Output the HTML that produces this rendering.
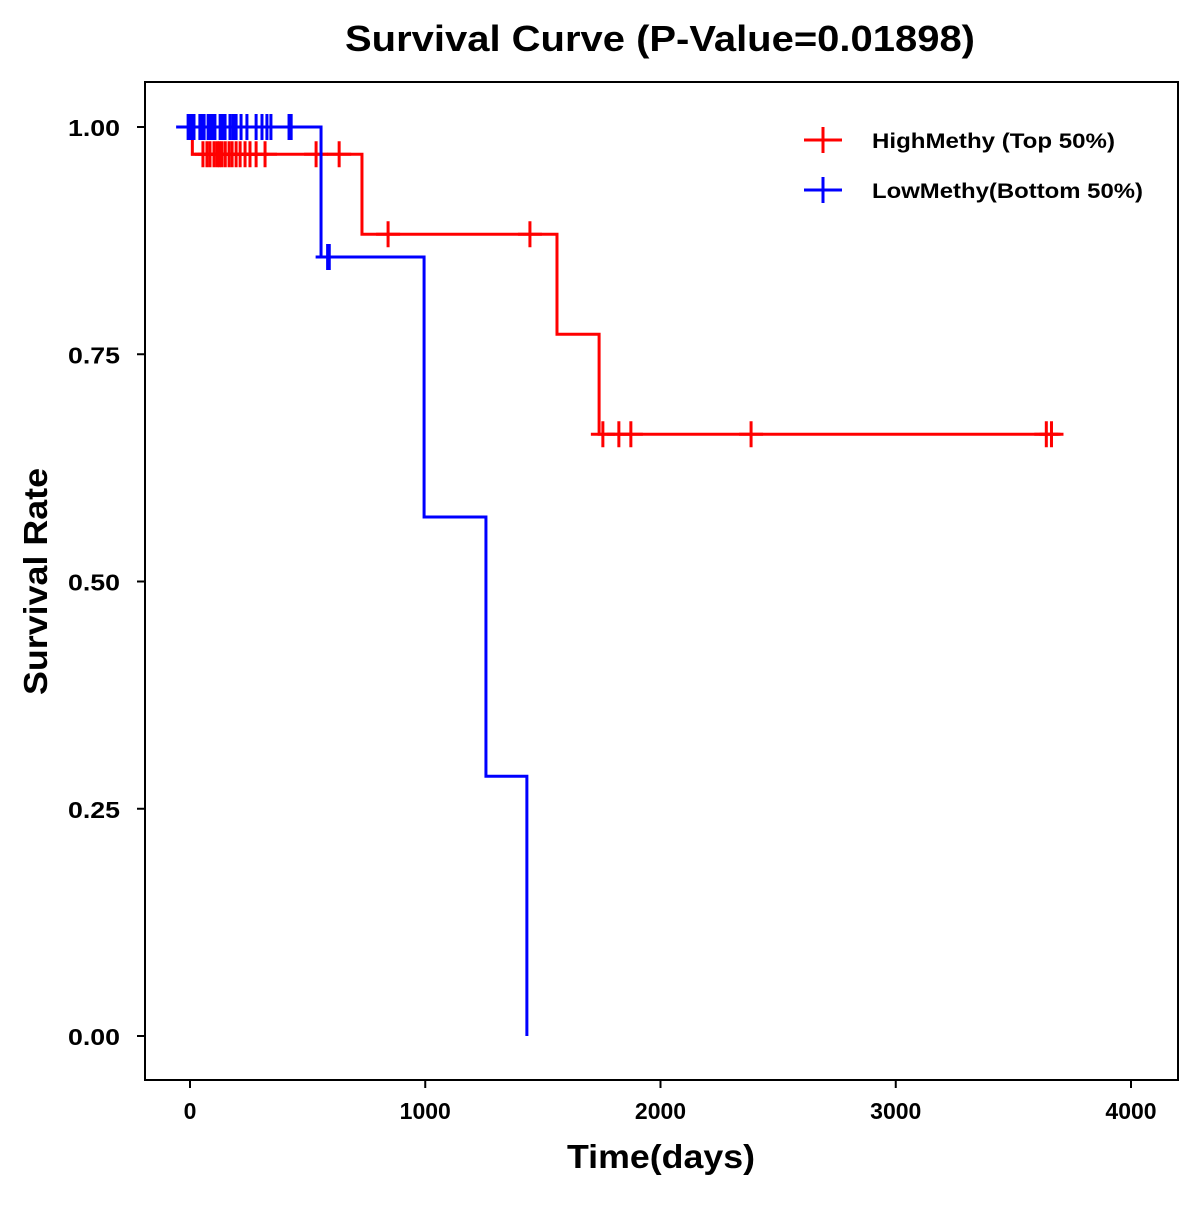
<!DOCTYPE html>
<html><head><meta charset="utf-8"><style>
body{margin:0;background:#fff}
svg text{font-family:"Liberation Sans",Arial,sans-serif;font-weight:bold}
</style></head><body>
<svg id="chart" width="1200" height="1200" viewBox="0 0 1200 1200" xmlns="http://www.w3.org/2000/svg">
<rect x="0" y="0" width="1200" height="1200" fill="#fff"/>
<text x="345" y="51" font-size="36" textLength="630" lengthAdjust="spacingAndGlyphs">Survival Curve (P-Value=0.01898)</text>
<rect x="145" y="82" width="1033" height="998" fill="none" stroke="#000" stroke-width="2"/>
<g id="axes"></g>
<g id="series"></g>
<text x="567" y="1168" font-size="33" textLength="188" lengthAdjust="spacingAndGlyphs">Time(days)</text>
<text transform="translate(47,695) rotate(-90)" font-size="33" textLength="227" lengthAdjust="spacingAndGlyphs">Survival Rate</text>
<g>
<g>
<line x1="804" y1="140" x2="842" y2="140" stroke="#f00" stroke-width="3"/><line x1="823" y1="127" x2="823" y2="153" stroke="#f00" stroke-width="3"/>
<text x="872" y="148" font-size="21" textLength="243" lengthAdjust="spacingAndGlyphs">HighMethy (Top 50%)</text></g>
<g>
<line x1="804" y1="190" x2="842" y2="190" stroke="#00f" stroke-width="3"/><line x1="823" y1="177" x2="823" y2="203" stroke="#00f" stroke-width="3"/>
<text x="872" y="198" font-size="21" textLength="271" lengthAdjust="spacingAndGlyphs">LowMethy(Bottom 50%)</text></g>
</g>
</svg>
<script>
const xTicks=[0,1000,2000,3000,4000];
const yTicks=[0,0.25,0.5,0.75,1.0];
const yTickLabels=["0.00","0.25","0.50","0.75","1.00"];
const highTimes=[0,10,731,1560,1739,3700];
const highSurv=[1,0.970,0.882,0.772,0.662,0.662];
const highCensorT=[55,72,85,102,115,125,136,150,166,179,196,213,234,255,281,319,536,634,842,1445,1755,1823,1874,2385,3640,3662];
const lowTimes=[-50,557,995,1258,1432];
const lowSurv=[1,0.857,0.571,0.2857,0];
const lowCensorT=[-8,0,4,10,17,42,50,60,77,86,94,106,128,140,149,170,183,190,196,217,242,281,306,327,344,421,427,430,585,592];
const lowLineEnd=1432;
const X=t=>190+t*0.23525;
const Y=s=>1036-s*909;
const NS="http://www.w3.org/2000/svg";
function mk(tag,attrs,parent){const e=document.createElementNS(NS,tag);for(const k in attrs)e.setAttribute(k,attrs[k]);parent.appendChild(e);return e;}
const axes=document.getElementById('axes');
xTicks.forEach((t,i)=>{
 const g=mk('g',{},axes);
 
 
 mk('line',{x1:X(t),x2:X(t),y1:1080,y2:1088,stroke:'#000','stroke-width':2},g);
 const tx=mk('text',{x:X(t),y:1119,'text-anchor':'middle','font-size':23},g);tx.textContent=t;
});
yTicks.forEach((v,i)=>{
 const g=mk('g',{},axes);
 
 
 mk('line',{x1:137,x2:145,y1:Y(v),y2:Y(v),stroke:'#000','stroke-width':2},g);
 const tx=mk('text',{x:68,y:Y(v)+9,'font-size':23,textLength:52,lengthAdjust:'spacingAndGlyphs'},g);tx.textContent=yTickLabels[i];
});
const series=document.getElementById('series');
function survAt(times,surv,t){let s=surv[0];for(let i=0;i<times.length;i++){if(times[i]<=t)s=surv[i];}return s;}
function draw(times,surv,endT,censor,color,name){
 const g=mk('g',{},series);
 
 
 let d='M'+X(times[0])+','+Y(surv[0]);
 for(let i=1;i<times.length;i++){d+=' H'+X(times[i])+' V'+Y(surv[i]);}
 d+=' H'+X(endT);
 const p=mk('path',{d:d,fill:'none',stroke:color,'stroke-width':3},g);
 
 
 censor.forEach(t=>{
  const y=Y(survAt(times,surv,t));
  const c=mk('path',{d:'M'+(X(t)-12)+','+y+' H'+(X(t)+12)+' M'+X(t)+','+(y-13)+' V'+(y+13),stroke:color,'stroke-width':3,fill:'none'},g);
  
  
 });
}
draw(highTimes,highSurv,3700,highCensorT,'#f00','high-methy');
draw(lowTimes,lowSurv,lowLineEnd,lowCensorT,'#00f','low-methy');
</script>
</body></html>
